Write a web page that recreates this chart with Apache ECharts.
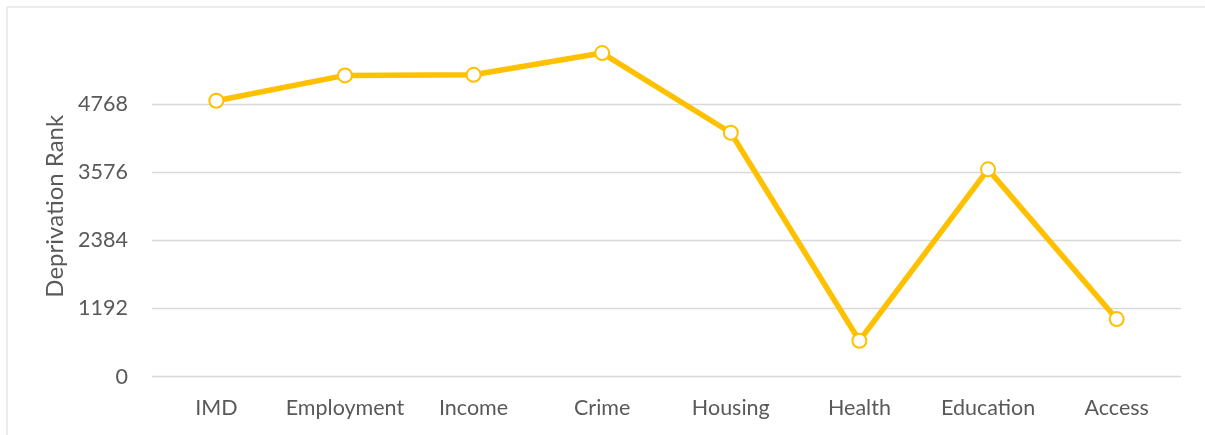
<!DOCTYPE html>
<html><head><meta charset="utf-8">
<script src="https://cdn.jsdelivr.net/npm/echarts@6/dist/echarts.min.js"></script>
<style>html,body{margin:0;padding:0;background:#fff;}#c{width:1205px;height:435px;}</style>
</head><body><div id="c"></div>
<script>
const categories = ['IMD','Employment','Income','Crime','Housing','Health','Education','Access'];
const rankValues = [4824, 5268, 5278, 5658, 4265, 629, 3625, 1008];
const yTicks = [0, 1192, 2384, 3576, 4768, 5960];
const yAxisTitle = 'Deprivation Rank';

const chart = echarts.init(document.getElementById('c'), null, {renderer:'canvas'});
const FONT = 'Lato';
chart.setOption({
  animation:false,
  backgroundColor:'#fff',
  graphic:[{type:'rect', shape:{x:7,y:7,width:1400,height:600}, style:{fill:'none', stroke:'#d9d9d9', lineWidth:1}, z:-1}],
  grid:{left:152, right:24, top:35.8, bottom:58.3, containLabel:false},
  xAxis:{
    type:'category', data:categories, boundaryGap:true,
    axisLine:{show:false}, axisTick:{show:false},
    axisLabel:{color:'#595959', fontFamily:FONT, fontSize:21.5, margin:20, interval:0}
  },
  yAxis:{
    type:'value', min:yTicks[0], max:yTicks[yTicks.length-1], interval:yTicks[1]-yTicks[0],
    name:yAxisTitle, nameLocation:'middle', nameRotate:90, nameGap:80,
    nameTextStyle:{color:'#595959', fontFamily:FONT, fontSize:24},
    axisLine:{show:false}, axisTick:{show:false},
    axisLabel:{color:'#595959', fontFamily:FONT, fontSize:21.5, margin:24, showMaxLabel:false,
      formatter:function(v){return String(v);}},
    splitLine:{show:true, lineStyle:{color:['#d9d9d9','#d9d9d9','#d9d9d9','#d9d9d9','#d9d9d9','transparent'], width:1.3}}
  },
  series:[{
    type:'line', data:rankValues,
    symbol:'circle', symbolSize:14,
    lineStyle:{color:'#FFC000', width:5.5},
    itemStyle:{color:'#fff', borderColor:'#FFC000', borderWidth:2},
    clip:false
  }]
});
</script></body></html>
